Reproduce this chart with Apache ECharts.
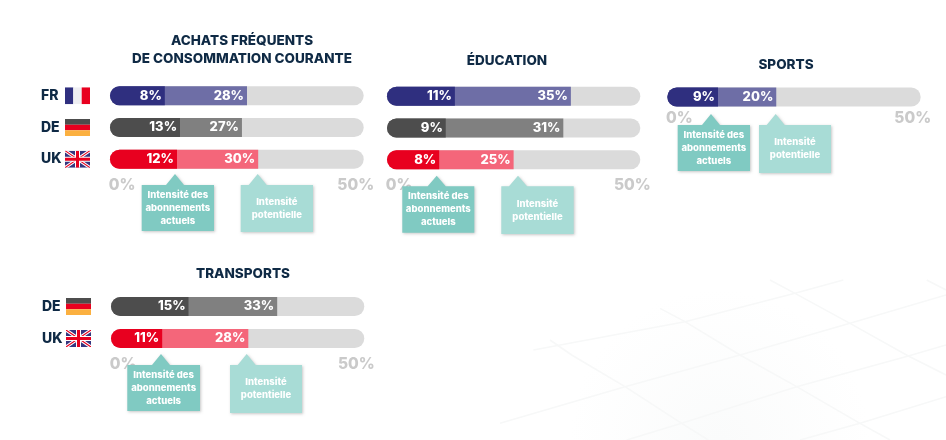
<!DOCTYPE html>
<html><head><meta charset="utf-8">
<style>html,body{margin:0;padding:0;background:#fff}#c{width:946px;height:440px}</style>
<script src="https://cdn.jsdelivr.net/npm/echarts@6/dist/echarts.min.js"></script>
</head><body><div id="c"></div>
<script>
// Segment ends as drawn on the 0-50 axis, and the printed labels
const achatsCountries = ['FR','DE','UK'];
const achatsCurrent = [10.8,13.8,13.2];
const achatsPotential = [27.0,26.0,29.2];
const achatsCurrentLabels = ['8%','13%','12%'];
const achatsPotentialLabels = ['28%','27%','30%'];

const educationCountries = ['FR','DE','UK'];
const educationCurrent = [13.4,11.6,10.3];
const educationPotential = [36.3,34.8,25.0];
const educationCurrentLabels = ['11%','9%','8%'];
const educationPotentialLabels = ['35%','31%','25%'];

const sportsCountries = ['FR'];
const sportsCurrent = [10.0];
const sportsPotential = [21.5];
const sportsCurrentLabels = ['9%'];
const sportsPotentialLabels = ['20%'];

const transportsCountries = ['DE','UK'];
const transportsCurrent = [15.3,10.1];
const transportsPotential = [32.8,27.1];
const transportsCurrentLabels = ['15%','11%'];
const transportsPotentialLabels = ['33%','28%'];

const axisMax = 50;
const tickFirst = '0%';
const tickLast = '50%';
const calloutCurrent = 'Intensité des\nabonnements\nactuels';
const calloutPotential = 'Intensité\npotentielle';

const currentColors = {FR:'#2f2f7f',DE:'#4d4d4d',UK:'#e8001f'};
const potentialColors = {FR:'#6e6ea6',DE:'#808080',UK:'#f4667a'};
const NAVY = '#0f2a45', FONT = 'Inter, "Open Sans", sans-serif';

const svg = s => 'data:image/svg+xml;charset=utf-8,' + encodeURIComponent(s);
const flagFR = svg('<svg xmlns="http://www.w3.org/2000/svg" width="25" height="17"><rect width="8.3" height="17" fill="#2f2f7f"/><rect x="8.3" width="8.4" height="17" fill="#eeeef2"/><rect x="16.7" width="8.3" height="17" fill="#e8001f"/></svg>');
const flagDE = svg('<svg xmlns="http://www.w3.org/2000/svg" width="25" height="17"><rect width="25" height="5.7" fill="#4d4d4d"/><rect y="5.7" width="25" height="5.6" fill="#e8001f"/><rect y="11.3" width="25" height="5.7" fill="#fbb040"/></svg>');
const flagUK = svg('<svg xmlns="http://www.w3.org/2000/svg" width="25" height="17"><rect width="25" height="17" fill="#35357f"/><path d="M0 0L25 17M25 0L0 17" stroke="#fff" stroke-width="3.2"/><path d="M0 0L25 17M25 0L0 17" stroke="#e8001f" stroke-width="1.1"/><path d="M12.5 0V17M0 8.5H25" stroke="#fff" stroke-width="5"/><path d="M12.5 0V17M0 8.5H25" stroke="#e8001f" stroke-width="3"/></svg>');

const panels = [
  {left:110,width:253.7,top:80,height:95,names:achatsCountries,cur:achatsCurrent,pot:achatsPotential,curL:achatsCurrentLabels,potL:achatsPotentialLabels,flags:true,margin:2},
  {left:387,width:253.3,top:80.5,height:95,names:educationCountries,cur:educationCurrent,pot:educationPotential,curL:educationCurrentLabels,potL:educationPotentialLabels,flags:false,margin:2},
  {left:667.3,width:253.4,top:84,height:26,names:sportsCountries,cur:sportsCurrent,pot:sportsPotential,curL:sportsCurrentLabels,potL:sportsPotentialLabels,flags:false,margin:0},
  {left:111,width:253.3,top:290.5,height:64,names:transportsCountries,cur:transportsCurrent,pot:transportsPotential,curL:transportsCurrentLabels,potL:transportsPotentialLabels,flags:true,margin:2}
];

const grid=[],xAxis=[],yAxis=[],series=[];
panels.forEach((p,i)=>{
  grid.push({left:p.left,width:p.width,top:p.top,height:p.height,containLabel:false});
  xAxis.push({gridIndex:i,type:'value',min:0,max:axisMax,interval:axisMax,
    axisLine:{show:false},axisTick:{show:false},splitLine:{show:false},
    axisLabel:{margin:p.margin,showMinLabel:true,showMaxLabel:true,hideOverlap:false,
      formatter:v=>v===0?'{a|'+tickFirst+'}':'{b|'+tickLast+'}',
      rich:{a:{fontFamily:FONT,fontWeight:800,fontSize:15.5,color:'#cacaca',padding:[0,0,0,24]},
            b:{fontFamily:FONT,fontWeight:800,fontSize:15.5,color:'#cacaca',padding:[0,16,0,0]}}}});
  yAxis.push({gridIndex:i,type:'category',inverse:true,data:p.names,
    axisLine:{show:false},axisTick:{show:false},
    axisLabel:{show:p.flags,margin:20,formatter:v=>'{t|'+v+'}{f'+v+'|}',
      rich:{t:{fontFamily:FONT,fontWeight:800,fontSize:14,color:NAVY,width:24,align:'left'},
        fFR:{width:25,height:17,backgroundColor:{image:flagFR}},
        fDE:{width:25,height:17,backgroundColor:{image:flagDE}},
        fUK:{width:25,height:17,backgroundColor:{image:flagUK}}}}});
  const base={type:'bar',xAxisIndex:i,yAxisIndex:i,barWidth:19,barGap:'-100%',silent:true,animation:false};
  const lab=arr=>({show:true,position:'insideRight',distance:3,color:'#fff',fontFamily:FONT,fontWeight:800,fontSize:13,
    formatter:o=>arr[o.dataIndex]});
  series.push({...base,name:'track',data:p.names.map(()=>axisMax),itemStyle:{color:'#dbdbdb',borderRadius:10}});
  series.push({...base,name:'Intensité potentielle',data:p.pot.map((v,k)=>({value:v,itemStyle:{color:potentialColors[p.names[k]],borderRadius:[10,0,0,10]}})),label:lab(p.potL)});
  series.push({...base,name:'Intensité des abonnements actuels',data:p.cur.map((v,k)=>({value:v,itemStyle:{color:currentColors[p.names[k]],borderRadius:[10,0,0,10]}})),label:lab(p.curL)});
});

const titles=[['ACHATS FRÉQUENTS',242,41],['DE CONSOMMATION COURANTE',242,59],['ÉDUCATION',507,61],['SPORTS',786,65],['TRANSPORTS',243,274]]
 .map(([text,x,y])=>({text,left:x,top:y-7,padding:0,textAlign:'center',
   textStyle:{fontFamily:FONT,fontWeight:800,fontSize:13.5,color:NAVY}}));

const DARK='#80cac2',LIGHT='#a8dcd6';
function callout(x,y,w,h,ax,ay,color,text){
  const by=y, half=9;
  return {type:'group',silent:true,z:100,children:[
    {type:'polygon',z:100,shape:{points:[[x,by],[ax-half,by],[ax,ay],[ax+half,by],[x+w,by],[x+w,y+h],[x,y+h]]},
     style:{fill:color,shadowBlur:3,shadowColor:'rgba(0,0,0,0.22)',shadowOffsetX:1,shadowOffsetY:1}},
    {type:'text',z:101,x:x+w/2,y:y+h/2,style:{text,fill:'#fff',align:'center',verticalAlign:'middle',
      fontFamily:FONT,fontWeight:800,fontSize:9.5,lineHeight:13}}
  ]};
}
const callouts=[
  callout(141.7,185,72.3,46,175,174,DARK,calloutCurrent),
  callout(240.7,185,72.3,47,257.7,174,LIGHT,calloutPotential),
  callout(402.3,186.3,72,46.4,436.7,175.7,DARK,calloutCurrent),
  callout(501.3,186.3,72.4,47.7,518,175.7,LIGHT,calloutPotential),
  callout(677.7,125,72.3,46,711,114,DARK,calloutCurrent),
  callout(759,125,72,48,775.7,114,LIGHT,calloutPotential),
  callout(127.3,365,72.7,46,161,354,DARK,calloutCurrent),
  callout(230,365,72,48,246.7,354,LIGHT,calloutPotential)
];

// faint floor grid in the page background
const zx=v=>500+v/3, zy=v=>280+v/3;
const bgLines=[
 [[100,210],[555,125],[885,40],[1030,0]],[[0,430],[375,320],[720,225],[1050,130],[1338,45]],
 [[380,480],[545,430],[890,320],[1225,228],[1338,195]],[[900,480],[1080,430],[1338,350]],
 [[150,180],[215,225],[375,320],[545,430],[625,480]],[[480,85],[555,125],[720,225],[890,320],[1080,430],[1170,480]],
 [[810,0],[885,40],[1050,130],[1225,228],[1338,285]],[[1280,0],[1338,30]]
].map(pts=>({type:'polyline',silent:true,z:-2,shape:{points:pts.map(([a,b])=>[zx(a),zy(b)])},style:{stroke:'#f7f8f8',lineWidth:1.6,fill:null}}));
const bgRect={type:'rect',silent:true,z:-3,shape:{x:300,y:240,width:646,height:200},
  style:{fill:new echarts.graphic.RadialGradient(0.65,1,0.75,[{offset:0,color:'rgba(250,251,251,1)'},{offset:1,color:'rgba(250,251,251,0)'}])}};

const chart=echarts.init(document.getElementById('c'),null,{renderer:'canvas'});
chart.setOption({animation:false,backgroundColor:'#fff',title:titles,grid,xAxis,yAxis,series,
  graphic:{elements:[bgRect,...bgLines,...callouts]}});
</script></body></html>
